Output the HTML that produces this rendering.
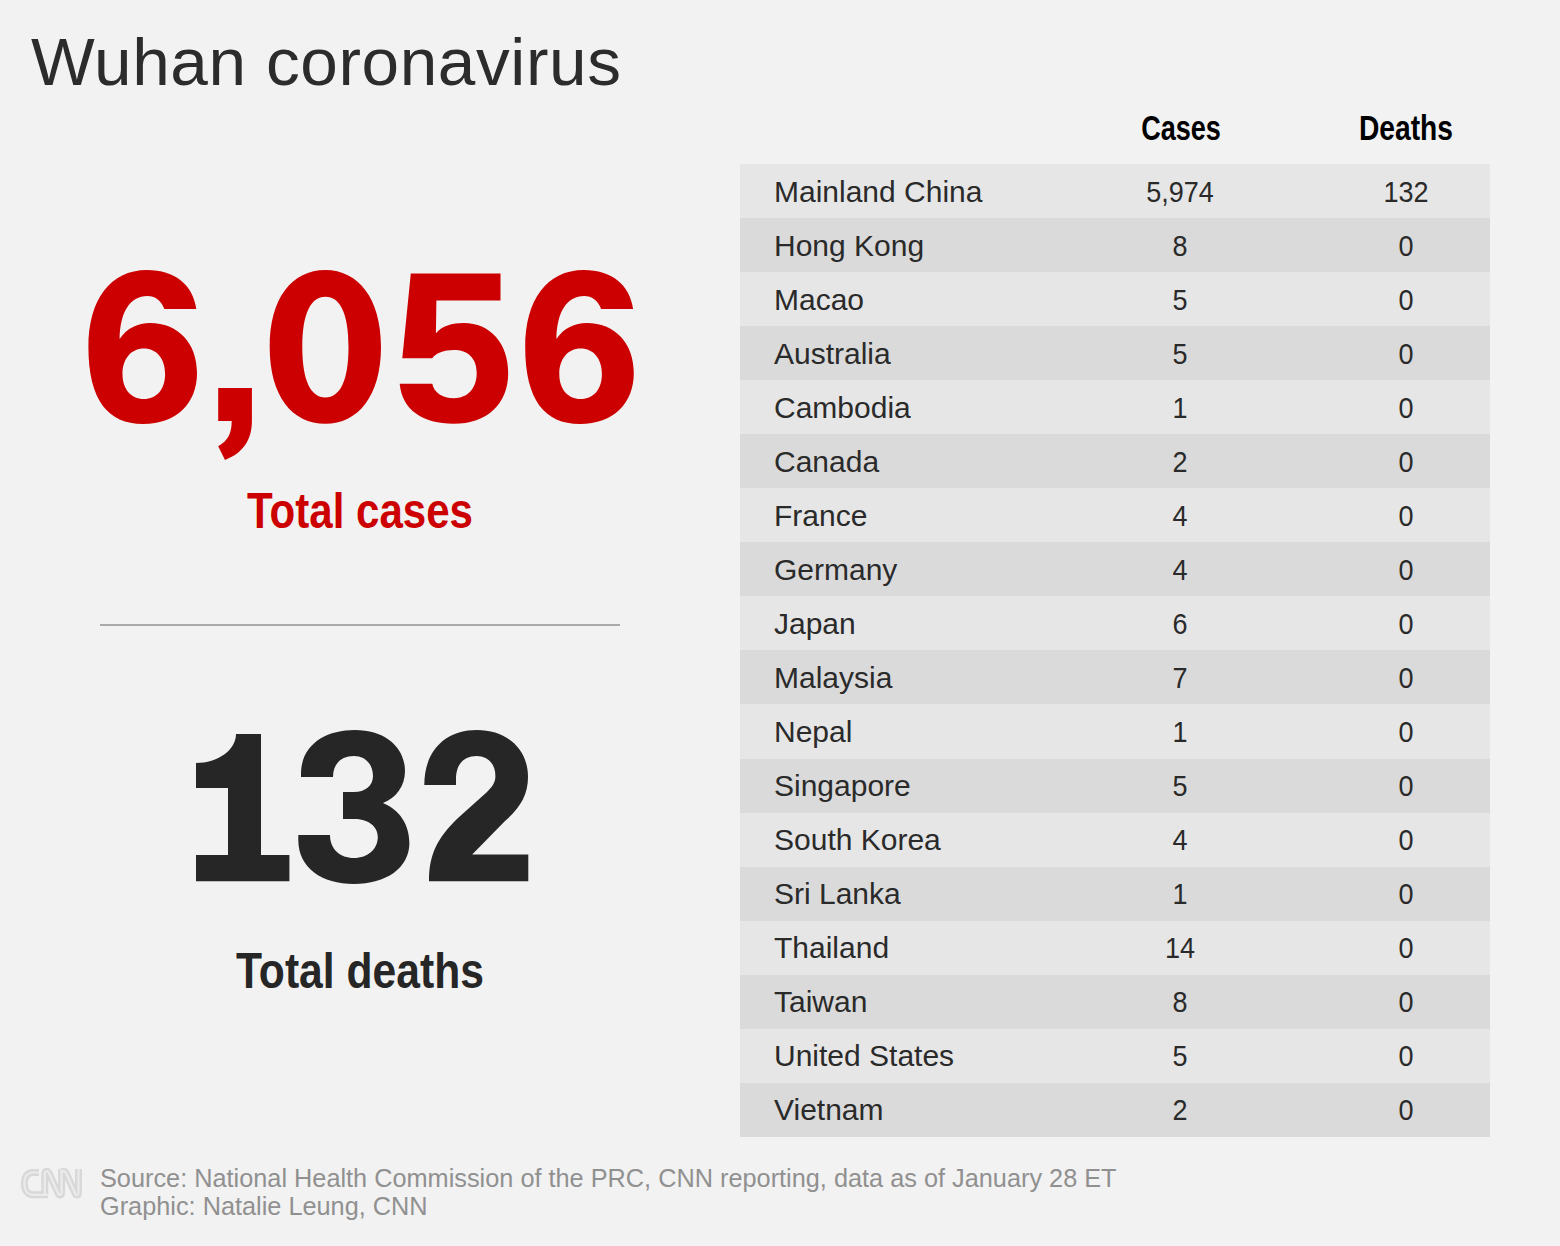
<!DOCTYPE html>
<html><head><meta charset="utf-8">
<style>
html,body{margin:0;padding:0;}
body{width:1560px;height:1246px;background:#f2f2f2;position:relative;overflow:hidden;font-family:"Liberation Sans",sans-serif;}
.a{position:absolute;white-space:nowrap;line-height:1;}
#title{left:31px;top:27.85px;font-size:67.5px;color:#2c2c2c;letter-spacing:0.6px;}
#lab1{left:247px;top:486px;font-size:50.2px;font-weight:bold;color:#cc0000;transform:scaleX(0.838);transform-origin:0 0;}
#rule{position:absolute;left:100px;top:624px;width:520px;height:2px;background:#aaaaaa;}
#lab2{left:236px;top:946px;font-size:50.5px;font-weight:bold;color:#262626;transform:scaleX(0.844);transform-origin:0 0;}
#tbl{position:absolute;left:740px;top:164px;width:750px;}
.r{height:54.06px;position:relative;background:#e6e6e6;}
.r:nth-child(even){background:#dadada;}
.r span{position:absolute;top:12.6px;line-height:30px;font-size:30px;color:#2a2a2a;}
.c1{left:34px;}
.c2{left:340px;width:200px;text-align:center;transform:scaleX(0.9);}
.c3{left:565.5px;width:200px;text-align:center;transform:scaleX(0.9);}
.hd{position:absolute;top:110.4px;font-size:35px;font-weight:bold;color:#000;width:200px;text-align:center;transform:scaleX(0.773);}
#foot{left:100px;top:1163.6px;font-size:25.3px;color:#909090;line-height:28.7px;}
svg{position:absolute;left:0;top:0;}
</style></head><body>
<div class="a" id="title">Wuhan coronavirus</div>
<svg width="1560" height="1246" viewBox="0 0 1560 1246">
<g fill="#cc0000" fill-rule="evenodd">
<path id="six" d="M88.4,347 C88.4,300 110,270 147,270 C175,270 193,285 196.3,309 L164.3,309 C161,300 155,296 147.4,296 C130,296 120,312 119.6,339 C127,328 138,323 150,323 C178,323 197,343 197,373 C197,403 177,424 143,424 C108,424 88.4,400 88.4,347 Z M143.8,348.5 C131,348.5 122.5,359 122.5,374 C122.5,389 131,399 143.8,399 C157,399 165.1,389 165.1,374 C165.1,359 157,348.5 143.8,348.5 Z"/>
<path d="M218.2,388.1 L251.9,388.1 L251.9,421 C251.9,440 243,453 225,460 L218.2,446.2 C228,441 231.7,433 231.7,421 L218.2,421 Z"/>
<path d="M325.4,270 C358,270 381,298 381,347 C381,396 358,423.8 325.4,423.8 C292,423.8 269.7,396 269.7,347 C269.7,298 292,270 325.4,270 Z M325.4,296.7 C311,296.7 302.3,313 302.3,347 C302.3,381 311,397.4 325.4,397.4 C340,397.4 348.5,381 348.5,347 C348.5,313 340,296.7 325.4,296.7 Z"/>
<path d="M410.8,273.6 L500.5,273.6 L500.5,300.5 L436.4,300.5 L435.9,333.3 C442,326 452,323 463.8,323 C490,323 508.2,343 508.2,373 C508.2,404 487,423.8 453.6,423.8 C423,423.8 402,410 399.7,383.8 L432.3,383.8 C434,393 443,398.2 453.6,398.2 C468,398.2 476.7,388 476.7,373 C476.7,358 468,350 453.6,350 C444,350 436,353 432.3,358.2 L402.3,358.2 Z"/>
<use href="#six" transform="translate(436.8,0)"/>
</g>
<g fill="#262626">
<path d="M196,788 L228,788 L228,855 L196,855 L196,881.2 L289.4,881.2 L289.4,855 L261,855 L261,734 L236,734 C236,750 218,763 196,763 Z"/>
<path d="M301,774 C301,745 325,730 355,730 C386,730 405,748 405,771 C405,786 396,798 383,803 C400,810 409.4,825 409.4,843 C409.4,868 386,884 354,884 C322,884 298.3,868 298.3,840 L298.3,835 L330,835 C330,849 340,858 354,858 C368,858 377.8,849 377.8,837 C377.8,826 368,819 354,819 L343,819 L343,792 L354,792 C365,792 373,786 373,776 C373,764 365,756 354,756 C341,756 333,764 333,777 L301,777 Z"/>
<path d="M424.3,785 C424.3,750 446,730 476.7,730 C508,730 528,750 528,777 C528,795 520,808 505,821 L472.2,854.4 L528.3,854.4 L528.3,881.2 L429,881.2 C429,855 437,838 458,818 L487,792 C493,786 495.4,782 495.4,776 C495.4,763 487,756 476.7,756 C464,756 456,764 456,779 L456,785 Z"/>
</g>
<defs><path id="logo" d="M39,1172.5 L33,1172.5 C26.5,1172.5 24.3,1178 24.3,1183.5 C24.3,1189 26.5,1194.8 33,1194.8 L48,1194.8 M44.8,1195 L44.8,1174 C44.8,1171 47.5,1170 49,1173 L57.5,1192 C59,1196 61.6,1196 61.6,1192 L61.6,1169 M61.6,1174 C61.6,1171 64.5,1170 66,1173 L74.5,1192 C76,1196 78.5,1196 78.5,1192 L78.5,1169"/></defs>
<g fill="none" stroke-linejoin="round">
<use href="#logo" stroke="#d8d8d8" stroke-width="7"/>
<use href="#logo" stroke="#ebebeb" stroke-width="2.2"/>
</g>
</svg>
<div class="a" id="lab1">Total cases</div>
<div id="rule"></div>
<div class="a" id="lab2">Total deaths</div>
<div class="a hd" style="left:1080.5px">Cases</div>
<div class="a hd" style="left:1306px;transform:scaleX(0.806)">Deaths</div>
<div id="tbl">
<div class="r"><span class="c1">Mainland China</span><span class="c2">5,974</span><span class="c3">132</span></div>
<div class="r"><span class="c1">Hong Kong</span><span class="c2">8</span><span class="c3">0</span></div>
<div class="r"><span class="c1">Macao</span><span class="c2">5</span><span class="c3">0</span></div>
<div class="r"><span class="c1">Australia</span><span class="c2">5</span><span class="c3">0</span></div>
<div class="r"><span class="c1">Cambodia</span><span class="c2">1</span><span class="c3">0</span></div>
<div class="r"><span class="c1">Canada</span><span class="c2">2</span><span class="c3">0</span></div>
<div class="r"><span class="c1">France</span><span class="c2">4</span><span class="c3">0</span></div>
<div class="r"><span class="c1">Germany</span><span class="c2">4</span><span class="c3">0</span></div>
<div class="r"><span class="c1">Japan</span><span class="c2">6</span><span class="c3">0</span></div>
<div class="r"><span class="c1">Malaysia</span><span class="c2">7</span><span class="c3">0</span></div>
<div class="r"><span class="c1">Nepal</span><span class="c2">1</span><span class="c3">0</span></div>
<div class="r"><span class="c1">Singapore</span><span class="c2">5</span><span class="c3">0</span></div>
<div class="r"><span class="c1">South Korea</span><span class="c2">4</span><span class="c3">0</span></div>
<div class="r"><span class="c1">Sri Lanka</span><span class="c2">1</span><span class="c3">0</span></div>
<div class="r"><span class="c1">Thailand</span><span class="c2">14</span><span class="c3">0</span></div>
<div class="r"><span class="c1">Taiwan</span><span class="c2">8</span><span class="c3">0</span></div>
<div class="r"><span class="c1">United States</span><span class="c2">5</span><span class="c3">0</span></div>
<div class="r"><span class="c1">Vietnam</span><span class="c2">2</span><span class="c3">0</span></div>
</div>
<div class="a" id="foot">Source: National Health Commission of the PRC, CNN reporting, data as of January 28 ET<br>Graphic: Natalie Leung, CNN</div>
</body></html>
